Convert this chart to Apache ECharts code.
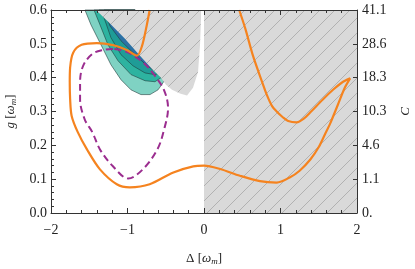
<!DOCTYPE html>
<html>
<head>
<meta charset="utf-8">
<script src="https://cdn.jsdelivr.net/npm/echarts@6/dist/echarts.min.js"></script>
<style>html,body{margin:0;padding:0;background:#fff;}#c{width:415px;height:269px;}</style>
</head>
<body>
<div id="c"></div>
<script>
// ---- data (Δ in ω_m, g in ω_m) ----
const xTicks = [-2, -1, 0, 1, 2];
const gTicks = [0, 0.1, 0.2, 0.3, 0.4, 0.5, 0.6];
const cLabels = ['0.', '1.1', '4.6', '10.3', '18.3', '28.6', '41.1'];

const orangeDelta = [-0.71, -0.75, -0.81, -0.876, -1.01, -1.19, -1.40, -1.60, -1.71, -1.75, -1.755, -1.75, -1.73, -1.65, -1.53, -1.36, -1.14, -0.97, -0.71, -0.40, -0.14, 0, 0.21, 0.47, 0.73, 0.95, 1.12, 1.25, 1.39, 1.50, 1.58, 1.65, 1.75, 1.84, 1.91, 1.80, 1.69, 1.55, 1.40, 1.30, 1.21, 1.10, 1.03, 0.95, 0.89, 0.82, 0.76, 0.64, 0.54, 0.46];
const orangeG     = [0.60, 0.553, 0.494, 0.465, 0.482, 0.496, 0.502, 0.497, 0.474, 0.430, 0.387, 0.337, 0.287, 0.239, 0.188, 0.129, 0.085, 0.076, 0.085, 0.120, 0.138, 0.140, 0.130, 0.110, 0.094, 0.090, 0.105, 0.125, 0.158, 0.195, 0.232, 0.265, 0.320, 0.370, 0.398, 0.385, 0.365, 0.335, 0.300, 0.278, 0.268, 0.272, 0.283, 0.300, 0.316, 0.350, 0.387, 0.465, 0.545, 0.60];

const purpleDelta = [-1.19, -1.32, -1.46, -1.58, -1.62, -1.62, -1.56, -1.46, -1.36, -1.19, -0.99, -0.80, -0.61, -0.52, -0.47, -0.52, -0.64, -0.80, -1.01, -1.19];
const purpleG     = [0.485, 0.482, 0.470, 0.435, 0.387, 0.337, 0.277, 0.239, 0.188, 0.138, 0.102, 0.129, 0.188, 0.248, 0.310, 0.362, 0.405, 0.446, 0.476, 0.485];

// filled contour levels (outer to inner)
const band1Delta = [-1.556, -1.477, -1.346, -1.216, -1.085, -0.954, -0.824, -0.706, -0.601, -0.536, -0.497, -0.90, -1.556];
const band1G     = [0.60, 0.556, 0.497, 0.438, 0.394, 0.364, 0.350, 0.350, 0.364, 0.385, 0.400, 0.60, 0.60];
const band2Delta = [-1.438, -1.359, -1.255, -1.124, -0.954, -0.771, -0.641, -0.562, -0.523, -0.90, -1.438];
const band2G     = [0.60, 0.556, 0.497, 0.450, 0.409, 0.391, 0.388, 0.400, 0.417, 0.60, 0.60];
const band3Delta = [-1.373, -1.320, -1.216, -1.085, -0.928, -0.771, -0.641, -0.575, -0.549, -0.90, -1.373];
const band3G     = [0.60, 0.586, 0.518, 0.468, 0.435, 0.414, 0.409, 0.414, 0.429, 0.60, 0.60];
const band4Delta = [-1.307, -1.229, -1.085, -0.902, -0.758, -0.667, -0.627, -0.90, -1.307];
const band4G     = [0.60, 0.553, 0.509, 0.468, 0.438, 0.423, 0.435, 0.60, 0.60];

// excluded (hatched) regions
const grayLeftDelta = [-1.412, -1.229, -1.033, -0.837, -0.667, -0.562, -0.497, -0.418, -0.314, -0.222, -0.144, -0.078, -0.052, -0.039, -0.039];
const grayLeftG     = [0.60, 0.560, 0.515, 0.465, 0.423, 0.400, 0.379, 0.364, 0.353, 0.347, 0.370, 0.417, 0.497, 0.577, 0.60];
const grayRightDelta = [0, 2, 2, 0];
const grayRightG     = [0, 0, 0.6, 0.6];

// ---- styling ----
const FONT = 'Liberation Serif';
const TXT = '#222';
const AX = '#333';

const hatch = document.createElement('canvas');
hatch.width = 15; hatch.height = 15;
(function () {
  const ctx = hatch.getContext('2d');
  ctx.fillStyle = '#d9d9d9';
  ctx.fillRect(0, 0, 15, 15);
  ctx.strokeStyle = '#959595';
  ctx.lineWidth = 0.6;
  ctx.beginPath();
  ctx.moveTo(-1, 16); ctx.lineTo(16, -1);
  ctx.moveTo(-1, 1); ctx.lineTo(1, -1);
  ctx.moveTo(14, 16); ctx.lineTo(16, 14);
  ctx.stroke();
})();

function polySeries(ds, gs, fill, stroke, lw, z) {
  return {
    type: 'custom', coordinateSystem: 'cartesian2d', silent: true, z: z,
    data: [[ds[0], gs[0]]],
    renderItem: function (params, api) {
      const pts = ds.map((d, i) => api.coord([d, gs[i]]));
      return { type: 'polygon', shape: { points: pts },
        style: { fill: fill, stroke: stroke || null, lineWidth: lw || 0 } };
    }
  };
}
function zip(a, b) { return a.map((v, i) => [v, b[i]]); }

const nameRich = {
  it: { fontFamily: FONT, fontStyle: 'italic', fontSize: 13, color: TXT },
  sub: { fontFamily: FONT, fontStyle: 'italic', fontSize: 9, color: TXT, padding: [6, 0, 0, 0] },
  n: { fontFamily: FONT, fontSize: 13, color: TXT }
};

const chart = echarts.init(document.getElementById('c'), null, { renderer: 'canvas' });
const tickStyle = { color: AX, width: 1 };
chart.setOption({
  animation: false,
  backgroundColor: '#fff',
  grid: { left: 51, right: 58, top: 10, bottom: 56, containLabel: false, outerBoundsMode: 'none' },
  xAxis: [{
    type: 'value', min: -2, max: 2, interval: 1, position: 'bottom', z: 10,
    axisLine: { show: true, onZero: false, lineStyle: { color: AX, width: 1 } },
    axisTick: { show: true, inside: true, length: 5, lineStyle: tickStyle },
    minorTick: { show: true, splitNumber: 5, length: 3, lineStyle: tickStyle },
    splitLine: { show: false },
    axisLabel: { fontFamily: FONT, fontSize: 14, color: TXT, margin: 10,
      formatter: v => (v < 0 ? '\u2212' + Math.abs(v) : String(v)) },
    name: '{n|Δ [}{it|ω}{sub|m}{n|]}', nameLocation: 'middle', nameGap: 38,
    nameTextStyle: { rich: nameRich }
  }, {
    type: 'value', min: -2, max: 2, interval: 1, position: 'top', z: 10,
    axisLine: { show: true, onZero: false, lineStyle: { color: AX, width: 1 } },
    axisTick: { show: true, inside: true, length: 5, lineStyle: tickStyle },
    minorTick: { show: true, splitNumber: 5, length: 3, lineStyle: tickStyle },
    splitLine: { show: false }, axisLabel: { show: false }
  }],
  yAxis: [{
    type: 'value', min: 0, max: 0.6, interval: 0.1, position: 'left', z: 10,
    axisLine: { show: true, onZero: false, lineStyle: { color: AX, width: 1 } },
    axisTick: { show: true, inside: true, length: 5, lineStyle: tickStyle },
    minorTick: { show: true, splitNumber: 5, length: 3, lineStyle: tickStyle },
    splitLine: { show: false },
    axisLabel: { fontFamily: FONT, fontSize: 14, color: TXT, margin: 4, formatter: v => v.toFixed(1) },
    name: '{it|g}{n| [}{it|ω}{sub|m}{n|]}', nameLocation: 'middle', nameGap: 33, nameRotate: 90,
    nameTextStyle: { rich: nameRich }
  }, {
    type: 'value', min: 0, max: 0.6, interval: 0.1, position: 'right', z: 10,
    axisLine: { show: true, onZero: false, lineStyle: { color: AX, width: 1 } },
    axisTick: { show: true, inside: true, length: 4, lineStyle: tickStyle },
    splitLine: { show: false },
    axisLabel: { fontFamily: FONT, fontSize: 14, color: TXT, margin: 5,
      formatter: v => cLabels[Math.round(v * 10)] },
    name: '{it|C}', nameLocation: 'middle', nameGap: 42, nameRotate: 90,
    nameTextStyle: { rich: nameRich }
  }],
  series: [
    polySeries(band1Delta, band1G, '#7fd2c3', '#1f3c3c', 0.6, 1),
    polySeries(band2Delta, band2G, '#2db3a0', '#1f3c3c', 0.6, 1),
    polySeries(band3Delta, band3G, '#1f9c97', '#1f3c3c', 0.6, 1),
    polySeries(band4Delta, band4G, '#2b71a5', '#1f3c3c', 0.6, 1),
    polySeries(grayLeftDelta, grayLeftG, { image: hatch, repeat: 'repeat' }, null, 0, 2),
    polySeries(grayRightDelta, grayRightG, { image: hatch, repeat: 'repeat' }, null, 0, 2),
    {
      type: 'line', data: zip(purpleDelta, purpleG), showSymbol: false, smooth: 0.35, clip: true, z: 4,
      lineStyle: { color: '#9b2d8f', width: 2, type: [7, 4] }
    },
    {
      type: 'line', data: zip(orangeDelta, orangeG), showSymbol: false, smooth: 0.3, clip: true, z: 5,
      lineStyle: { color: '#f5831f', width: 2.2 }
    }
  ]
});
</script>
</body>
</html>
